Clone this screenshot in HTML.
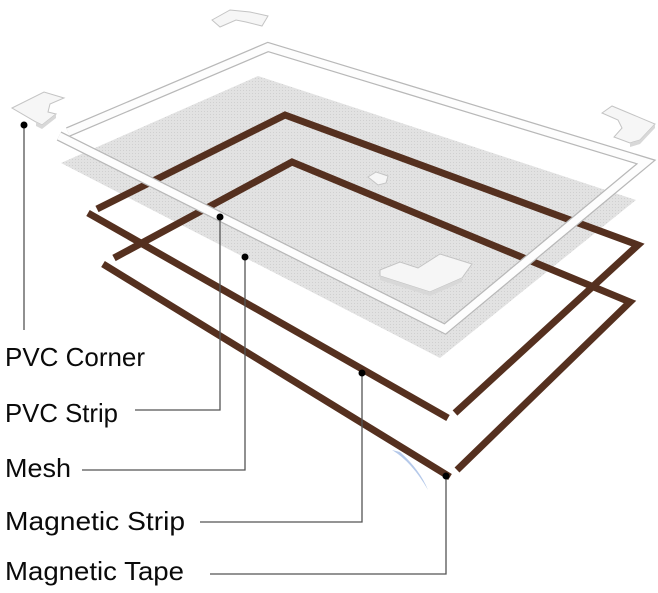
<!DOCTYPE html>
<html><head><meta charset="utf-8"><style>
html,body{margin:0;padding:0;background:#fff;}
svg{display:block;}
text{font-family:"Liberation Sans",sans-serif;font-size:26px;fill:#0a0a0a;}
</style></head><body>
<svg width="658" height="593" viewBox="0 0 658 593">
<defs>
<pattern id="meshp" width="3" height="3" patternUnits="userSpaceOnUse">
<rect width="3" height="3" fill="#e2e2e2"/><rect width="1" height="1" fill="#d0d0d0"/>
</pattern>
</defs>
<polygon points="258,76 636,200 440,358 61,163" fill="url(#meshp)"/>
<g fill="none" stroke="#55301f" stroke-width="7">
<polyline points="97,209 285,115 638,245 455,413"/>
<polyline points="88,213 448,418"/>
</g>
<path d="M392,450 Q412,462 428,490 Q420,470 400,452 Z" fill="#b5c9ea"/>
<g fill="none" stroke="#55301f" stroke-width="7">
<polyline points="114,258 292,162 630,302 457,470"/>
<polyline points="103,264 450,477"/>
</g>
<g fill="none">
<polyline points="68,132 268,47 646,162 445,329 59,136" stroke="#b8b8b8" stroke-width="10"/>
<polyline points="68,132 268,47 646,162 445,329 59,136" stroke="#fdfdfd" stroke-width="7.5"/>
</g>
<g fill="#f6f6f6" stroke="#c4c4c4" stroke-width="1">
<polygon points="212,20 230,10 250,12 268,16 262,26 246,22 236,20 220,27"/>
<polygon points="12,108 44,92 64,98 50,104 48,112 56,114 42,125 36,122"/>
<polygon points="602,113 612,106 655,124 640,140 630,143 614,137 622,128 618,120"/>
<polygon points="368,177 376,172 388,176 386,183 378,185"/>
<polygon points="380,270 400,262 418,268 440,254 472,264 462,278 430,292 380,276"/>
</g>
<g fill="#d8d8d8">
<polygon points="36,122 42,125 56,114 56,118 42,129 36,126"/>
<polygon points="630,143 640,140 655,124 655,128 640,144 630,147"/>
<polygon points="380,276 430,292 462,278 462,282 430,296 380,280"/>
</g>
<g fill="none" stroke="#555" stroke-width="1.3">
<polyline points="24,125 24,330"/>
<polyline points="220,217 220,410 135,410"/>
<polyline points="245,257 245,470 82,470"/>
<polyline points="362,373 362,522 200,522"/>
<polyline points="446,476 446,574 210,574"/>
</g>
<g fill="#000">
<circle cx="24" cy="125" r="3.5"/>
<circle cx="220" cy="217" r="3.5"/>
<circle cx="245" cy="257" r="3.5"/>
<circle cx="362" cy="373" r="3.5"/>
<circle cx="446" cy="476" r="3.5"/>
</g>
<text x="5" y="366" textLength="140" lengthAdjust="spacingAndGlyphs">PVC Corner</text>
<text x="5" y="422" textLength="113" lengthAdjust="spacingAndGlyphs">PVC Strip</text>
<text x="5" y="477" textLength="66" lengthAdjust="spacingAndGlyphs">Mesh</text>
<text x="5" y="530" textLength="180" lengthAdjust="spacingAndGlyphs">Magnetic Strip</text>
<text x="5" y="580" textLength="179" lengthAdjust="spacingAndGlyphs">Magnetic Tape</text>
</svg>
</body></html>
